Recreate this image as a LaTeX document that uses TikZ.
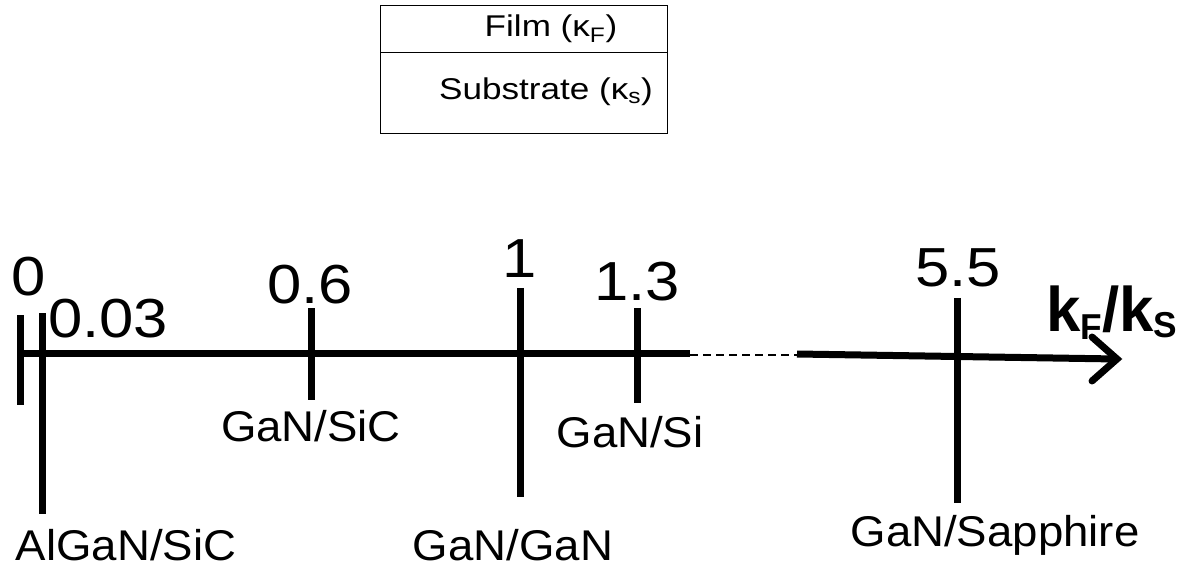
\documentclass[tikz,border=0pt]{standalone}
\usepackage{fontspec}
\usepackage{graphicx}
\setmainfont{Liberation Sans}
\usetikzlibrary{arrows.meta}
% widened lettering used throughout the figure
\newcommand\hs[2][1.17]{\scalebox{#1}[1]{#2}}
\begin{document}
\begin{tikzpicture}[x=1pt,y=-1pt,
  axisline/.style={line width=7pt},
  tickline/.style={line width=7pt},
  num/.style={font=\fontsize{55}{55}\selectfont, inner sep=0pt, anchor=base},
  lab/.style={font=\fontsize{43}{43}\selectfont, inner sep=0pt, anchor=base},
  boxtxt/.style={font=\fontsize{30}{30}\selectfont, inner sep=0pt, anchor=base}]
\useasboundingbox (0,0) rectangle (1191,569);

% legend box: film on substrate
\node[draw, line width=1.4pt, minimum width=287pt, minimum height=47pt, inner sep=0pt, anchor=north west] (film) at (380,5) {};
\node[draw, line width=1.4pt, minimum width=287pt, minimum height=81pt, inner sep=0pt, anchor=north west] (sub) at (380,52) {};
\node[boxtxt] (filmtxt) at (551,37) {\hs{Film (κ\textsubscript{F})}};
\node[boxtxt] (subtxt) at (546,100) {\hs{Substrate (κ\textsubscript{s})}};

% axis coordinates
\coordinate (a0) at (17,353);
\coordinate (a1) at (690,353);
\coordinate (d0) at (690,355);
\coordinate (d1) at (797,355);
\coordinate (b0) at (797,354);
\coordinate (b1) at (1117,359);
\coordinate (h1) at (1092,337);
\coordinate (h2) at (1092,381);

\draw[axisline] (a0) -- (a1);
\draw[line width=1.6pt, dash pattern=on 8pt off 5pt] (d0) -- (d1);
\draw[axisline] (b0) -- (b1);
\draw[line width=7pt, line cap=round, line join=miter] (h1) -- (b1) -- (h2);

% ticks
\coordinate (t0a) at (20,315);   \coordinate (t0b) at (20,405);
\coordinate (t1a) at (42,313);   \coordinate (t1b) at (42,514);
\coordinate (t2a) at (311,308);  \coordinate (t2b) at (311,400);
\coordinate (t3a) at (520,288);  \coordinate (t3b) at (520,497);
\coordinate (t4a) at (637,308);  \coordinate (t4b) at (637,403);
\coordinate (t5a) at (957,298);  \coordinate (t5b) at (957,503);
\foreach \i in {0,...,5} \draw[tickline] (t\i a) -- (t\i b);

% tick values
\node[num] (v0) at (29,295) {\hs[1.12]{0}};
\node[num] (v1) at (108,337) {\hs[1.12]{0.03}};
\node[num] (v2) at (310,303) {\hs[1.12]{0.6}};
\node[num] (v3) at (520,278) {\hs[1.12]{1}};
\node[num] (v4) at (637,301) {\hs[1.12]{1.3}};
\node[num] (v5) at (958,287) {\hs[1.12]{5.5}};

% axis title
\node[font=\fontsize{63}{63}\selectfont\bfseries, inner sep=0pt, anchor=base] (title) at (1112,331)
  {\hs[0.98]{k\raisebox{-0.13em}{\fontsize{36}{36}\selectfont F}/k\raisebox{-0.1em}{\fontsize{36}{36}\selectfont S}}};

% material systems
\node[lab] (m0) at (311,441) {\hs[1.06]{GaN/SiC}};
\node[lab] (m1) at (630,447) {\hs[1.06]{GaN/Si}};
\node[lab] (m2) at (126,560) {\hs[1.06]{AlGaN/SiC}};
\node[lab] (m3) at (513,560) {\hs[1.06]{GaN/GaN}};
\node[lab] (m4) at (995,546) {\hs[1.06]{GaN/Sapphire}};
\end{tikzpicture}
\end{document}
